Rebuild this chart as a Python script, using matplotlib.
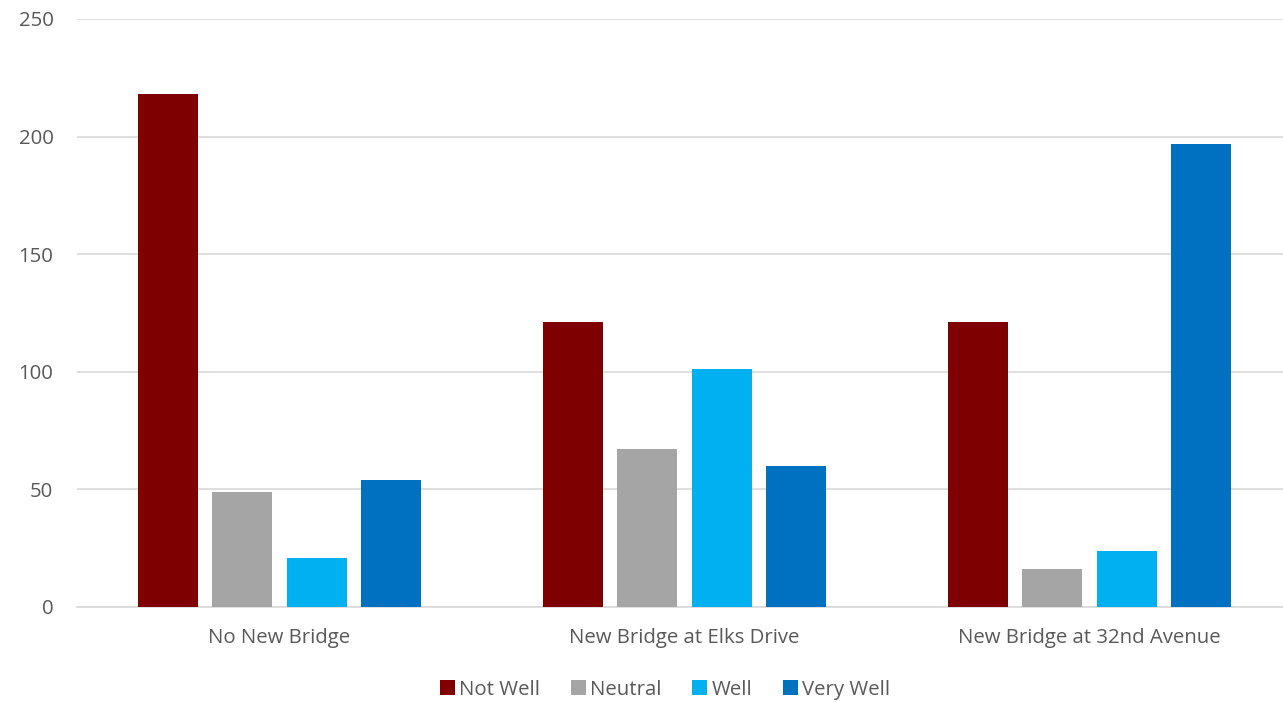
import numpy as np
import matplotlib
matplotlib.use("Agg")
import matplotlib.pyplot as plt

categories = ["No New Bridge", "New Bridge at Elks Drive", "New Bridge at 32nd Avenue"]
series_names = ["Not Well", "Neutral", "Well", "Very Well"]
not_well = [218, 121, 121]
neutral = [49, 67, 16]
well = [21, 101, 24]
very_well = [54, 60, 197]
colors = ["#7F0000", "#A5A5A5", "#00B0F0", "#0070C0"]

plt.rcParams["font.family"] = ["Open Sans", "DejaVu Sans"]
text_color = "#595959"

fig = plt.figure(figsize=(12.83, 7.02), dpi=100)
# plot area runs a little past the right edge of the image, as in the original
ax = fig.add_axes([77 / 1283, 1 - 607 / 702, 1215 / 1283, (607 - 19) / 702])

x = np.arange(len(categories))
width = 0.148
step = 0.183
for i, (vals, name) in enumerate(zip([not_well, neutral, well, very_well], series_names)):
    offset = (i - 1.5) * step
    ax.bar(x + offset, vals, width, color=colors[i], label=name, zorder=3)

ax.set_xlim(-0.5, 2.5)
ax.set_ylim(0, 250)
ax.set_yticks(range(0, 251, 50))
ax.yaxis.grid(True, color="#D9D9D9", linewidth=1.2, zorder=0)
ax.set_xticks(x)
ax.set_xticklabels(categories)
ax.tick_params(axis="both", length=0, labelsize=14.7, colors=text_color)
ax.tick_params(axis="y", pad=17)
ax.tick_params(axis="x", pad=15)
for s in ["top", "right", "left"]:
    ax.spines[s].set_visible(False)
ax.spines["bottom"].set_color("#D9D9D9")
ax.spines["bottom"].set_linewidth(1.2)

leg = fig.legend(loc="center", bbox_to_anchor=(665 / 1283, 1 - 690 / 702), ncol=4,
                 frameon=False, fontsize=14.7, handlelength=0.75, handleheight=0.75,
                 handletextpad=0.2, columnspacing=1.5)
for t in leg.get_texts():
    t.set_color(text_color)

fig.savefig("out.png", dpi=100)
